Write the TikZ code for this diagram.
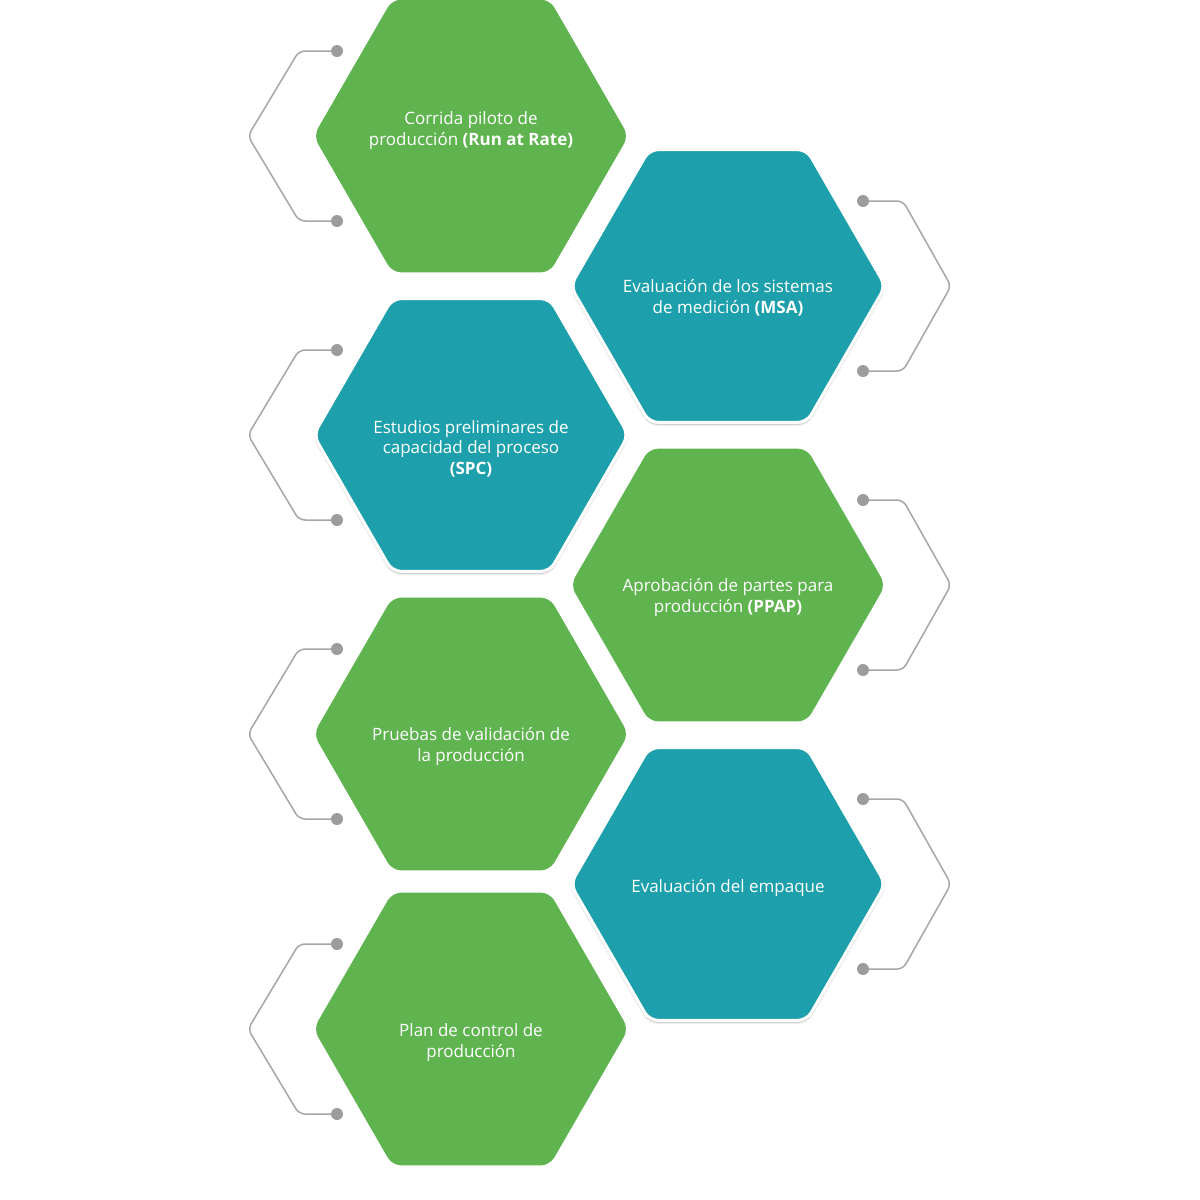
\documentclass[tikz,border=0pt]{standalone}
\usepackage{fontspec}
\setmainfont{Open Sans}
\usepackage{tikz}
\usetikzlibrary{shapes.geometric, shadows.blur}
\definecolor{hexgreen}{HTML}{5FB450}
\definecolor{hexteal}{HTML}{1DA0AC}
\definecolor{linegray}{HTML}{A6A6A6}
\definecolor{dotgray}{HTML}{9C9C9C}
\tikzstyle{hex} = [regular polygon, regular polygon sides=6, minimum size=315pt, inner sep=0pt, rounded corners=9pt]
\tikzstyle{greenhex} = [hex, fill=hexgreen]
\tikzstyle{tealhex} = [hex, fill=hexteal, draw=white, line width=3pt, blur shadow={shadow xshift=0pt, shadow yshift=-2pt, shadow blur steps=10, shadow opacity=30}]
\tikzstyle{txt} = [text=white, align=center, anchor=base, font=\fontsize{17}{20.5}\selectfont]
\tikzstyle{dot} = [circle, fill=dotgray, minimum size=12pt, inner sep=0pt]
\tikzstyle{bracket} = [draw=linegray, line width=1.5pt, rounded corners=6pt]

\begin{document}
\begin{tikzpicture}[x=1pt, y=-1pt]
\useasboundingbox (0,0) rectangle (1200,1200);
\node (run) [greenhex] at (471,136) {};
\node (msa) [tealhex] at (728,286) {};
\node (spc) [tealhex] at (471,435) {};
\node (ppap) [greenhex] at (728,585) {};
\node (val) [greenhex] at (471,734) {};
\node (pack) [tealhex] at (728,884) {};
\node (plan) [greenhex] at (471,1029) {};

\node (run-t) [txt] at ([yshift=-9pt]run.center) {Corrida piloto de\\producción \textbf{(Run at Rate)}};
\node (msa-t) [txt] at ([yshift=-27pt]msa.center) {Evaluación de los sistemas\\de medición \textbf{(MSA)}};
\node (spc-t) [txt] at ([yshift=-39pt]spc.center) {Estudios preliminares de\\capacidad del proceso\\\textbf{(SPC)}};
\node (ppap-t) [txt] at ([yshift=-27pt]ppap.center) {Aprobación de partes para\\producción \textbf{(PPAP)}};
\node (val-t) [txt] at ([yshift=-27pt]val.center) {Pruebas de validación de\\la producción};
\node (pack-t) [txt] at ([yshift=-8pt]pack.center) {Evaluación del empaque};
\node (plan-t) [txt] at ([yshift=-28pt]plan.center) {Plan de control de\\producción};

% brackets on the left
\node (d1a) [dot] at (337,51) {};
\node (d1b) [dot] at (337,221) {};
\node (d3a) [dot] at (337,350) {};
\node (d3b) [dot] at (337,520) {};
\node (d5a) [dot] at (337,649) {};
\node (d5b) [dot] at (337,819) {};
\node (d7a) [dot] at (337,944) {};
\node (d7b) [dot] at (337,1114) {};
\draw [bracket] (d1a) -- (299,51) -- (248,136) -- (299,221) -- (d1b);
\draw [bracket] (d3a) -- (299,350) -- (248,435) -- (299,520) -- (d3b);
\draw [bracket] (d5a) -- (299,649) -- (248,734) -- (299,819) -- (d5b);
\draw [bracket] (d7a) -- (299,944) -- (248,1029) -- (299,1114) -- (d7b);

% brackets on the right
\node (d2a) [dot] at (863,201) {};
\node (d2b) [dot] at (863,371) {};
\node (d4a) [dot] at (863,500) {};
\node (d4b) [dot] at (863,670) {};
\node (d6a) [dot] at (863,799) {};
\node (d6b) [dot] at (863,969) {};
\draw [bracket] (d2a) -- (903,201) -- (951,286) -- (903,371) -- (d2b);
\draw [bracket] (d4a) -- (903,500) -- (951,585) -- (903,670) -- (d4b);
\draw [bracket] (d6a) -- (903,799) -- (951,884) -- (903,969) -- (d6b);
\end{tikzpicture}
\end{document}
